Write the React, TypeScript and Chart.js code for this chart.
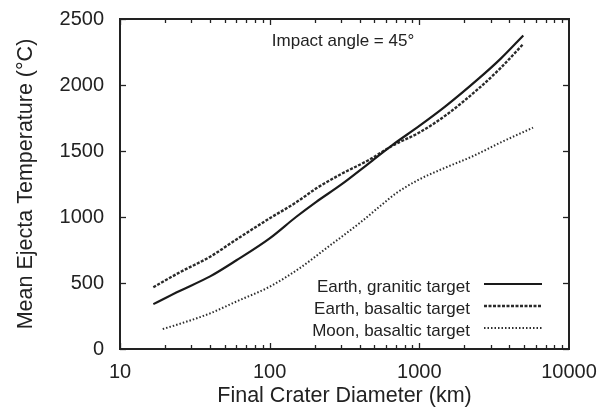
import React, { useEffect, useRef } from 'react';
import { Chart, registerables } from 'chart.js';

Chart.register(...registerables);

// ---- data ----
const graniticX = [16.7, 25, 40, 60, 100, 150, 205, 300, 460, 660, 1000, 1500, 2500, 3500, 4950];
const graniticY = [340, 440, 550, 672, 838, 1000, 1115, 1245, 1407, 1545, 1690, 1840, 2050, 2200, 2375];

const basalticX = [16.7, 25, 40, 60, 100, 150, 205, 300, 460, 660, 1000, 1500, 2500, 3500, 4950];
const basalticY = [468, 580, 699, 830, 990, 1110, 1217, 1325, 1432, 1540, 1640, 1770, 1975, 2130, 2311];

const moonX = [19.3, 25, 40, 60, 100, 158, 250, 400, 550, 700, 1000, 1500, 2270, 3500, 5750];
const moonY = [151, 190, 270, 360, 472, 611, 780, 955, 1085, 1180, 1285, 1375, 1460, 1565, 1677];

const seriesLabels = ['Earth, granitic target', 'Earth, basaltic target', 'Moon, basaltic target'];
const xTickValues = [10, 100, 1000, 10000];
const annotationText = 'Impact angle = 45°';
const xTitle = 'Final Crater Diameter (km)';
const yTitle = 'Mean Ejecta Temperature (°C)';

const FONT = "'Liberation Sans', Arial, Helvetica, sans-serif";
const INK = '#222';

export default function App() {
  const ref = useRef<HTMLCanvasElement>(null);

  useEffect(() => {
    const canvas = ref.current;
    if (!canvas) return;
    const pts = (xs: number[], ys: number[]) => xs.map((x, i) => ({ x, y: ys[i] }));

    const framePlugin = {
      id: 'frameTicks',
      afterDatasetsDraw(chart: any) {
        const { ctx, chartArea: a, scales } = chart;
        const xs = scales.x;
        const ys = scales.y;
        const seg = (x1: number, y1: number, x2: number, y2: number) => {
          ctx.beginPath();
          ctx.moveTo(x1, y1);
          ctx.lineTo(x2, y2);
          ctx.stroke();
        };
        ctx.save();
        ctx.strokeStyle = INK;
        ctx.lineWidth = 1.3;
        ctx.setLineDash([]);
        for (const d of [10, 100, 1000]) {
          for (let m = 1; m <= 9; m++) {
            const px = Math.round(xs.getPixelForValue(d * m)) + 0.5;
            const len = m === 1 ? 6 : 4;
            seg(px, a.bottom, px, a.bottom - len);
            seg(px, a.top, px, a.top + len);
          }
        }
        for (const t of ys.ticks) {
          const py = Math.round(ys.getPixelForValue(t.value)) + 0.5;
          seg(a.left, py, a.left + 6, py);
          seg(a.right, py, a.right - 6, py);
        }
        ctx.lineWidth = 2;
        ctx.strokeRect(a.left, a.top, a.right - a.left, a.bottom - a.top);
        ctx.restore();
      },
      afterDraw(chart: any) {
        const { ctx, chartArea: a } = chart;
        ctx.save();
        ctx.font = `17px ${FONT}`;
        ctx.fillStyle = INK;
        ctx.textAlign = 'right';
        ctx.textBaseline = 'alphabetic';
        chart.data.datasets.forEach((ds: any, i: number) => {
          const baseY = a.bottom - 57 + i * 22;
          ctx.fillText(ds.label, a.right - 99, baseY);
          ctx.strokeStyle = ds.borderColor;
          ctx.lineWidth = ds.borderWidth;
          ctx.setLineDash(ds.borderDash || []);
          const ly = baseY - 8;
          ctx.beginPath();
          ctx.moveTo(a.right - 85, ly);
          ctx.lineTo(a.right - 27, ly);
          ctx.stroke();
        });
        ctx.setLineDash([]);
        ctx.textAlign = 'center';
        ctx.fillText(annotationText, a.left + 223, a.top + 27);
        ctx.restore();
      },
    };

    const zeroPad = (s: any) => {
      s.paddingLeft = 0;
      s.paddingRight = 0;
      s.paddingTop = 0;
      s.paddingBottom = 0;
    };

    const chart = new Chart(canvas, {
      type: 'line',
      data: {
        datasets: [
          {
            label: seriesLabels[0],
            data: pts(graniticX, graniticY),
            borderColor: '#1a1a1a',
            borderWidth: 2.2,
            pointRadius: 0,
            cubicInterpolationMode: 'monotone',
          },
          {
            label: seriesLabels[1],
            data: pts(basalticX, basalticY),
            borderColor: '#2a2a2a',
            borderWidth: 2.4,
            borderDash: [3, 1.5],
            pointRadius: 0,
            cubicInterpolationMode: 'monotone',
          },
          {
            label: seriesLabels[2],
            data: pts(moonX, moonY),
            borderColor: '#2e2e2e',
            borderWidth: 2,
            borderDash: [1.5, 2],
            pointRadius: 0,
            cubicInterpolationMode: 'monotone',
          },
        ],
      },
      options: {
        responsive: false,
        animation: false,
        devicePixelRatio: 1,
        layout: { padding: { left: 0, right: 34, top: 19, bottom: 0 } },
        plugins: { legend: { display: false }, tooltip: { enabled: false } },
        scales: {
          x: {
            type: 'logarithmic',
            min: 10,
            max: 10000,
            grid: { display: false, drawTicks: false },
            border: { display: false },
            afterBuildTicks: (s: any) => {
              s.ticks = xTickValues.map((v) => ({ value: v }));
            },
            afterFit: (s: any) => {
              s.height = 68;
              zeroPad(s);
            },
            ticks: {
              autoSkip: false,
              maxRotation: 0,
              padding: 11,
              color: INK,
              font: { family: FONT, size: 20 },
              callback: (v: any) => String(v),
            },
            title: {
              display: true,
              text: xTitle,
              color: INK,
              font: { family: FONT, size: 21.5 },
              padding: { top: 0, bottom: 8.5 },
            },
          },
          y: {
            type: 'linear',
            min: 0,
            max: 2500,
            grid: { display: false, drawTicks: false },
            border: { display: false },
            afterFit: (s: any) => {
              s.width = 120;
              zeroPad(s);
            },
            ticks: {
              stepSize: 500,
              padding: 16,
              color: INK,
              font: { family: FONT, size: 20 },
              callback: (v: any) => String(v),
            },
            title: {
              display: true,
              text: yTitle,
              color: INK,
              font: { family: FONT, size: 21.5 },
              padding: { top: 13, bottom: 0 },
            },
          },
        },
      },
      plugins: [framePlugin],
    } as any);

    return () => chart.destroy();
  }, []);

  return (
    <div style={{ position: 'fixed', left: 0, top: 0, width: 603, height: 417, background: '#fff' }}>
      <canvas ref={ref} width={603} height={417} style={{ display: 'block', width: 603, height: 417 }} />
    </div>
  );
}
